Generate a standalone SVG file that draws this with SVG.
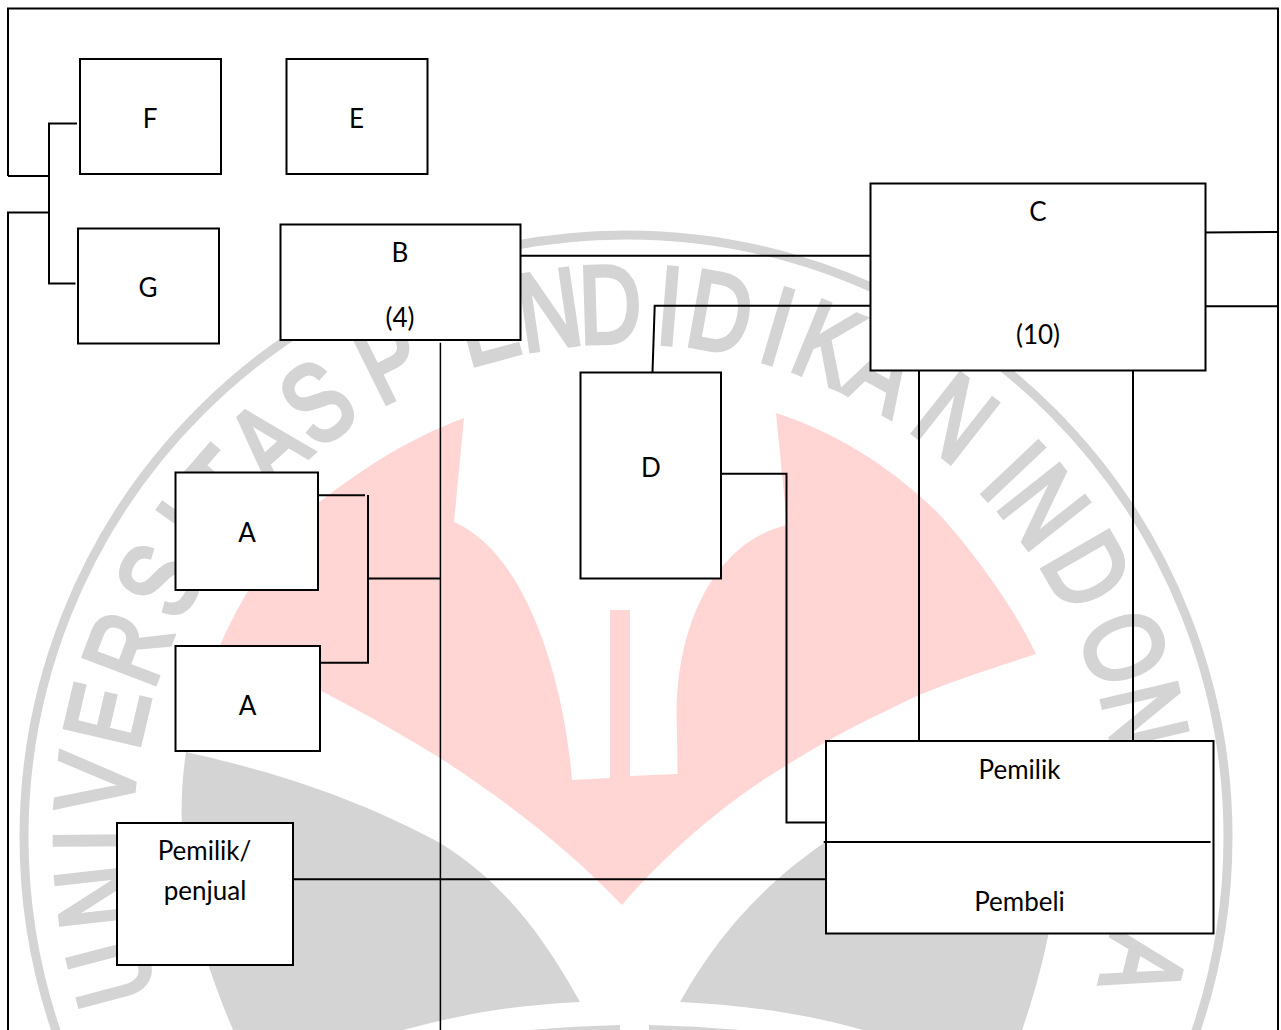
<svg xmlns="http://www.w3.org/2000/svg" width="1281" height="1030" viewBox="0 0 1281 1030">
<style>
text{font-family:Lato,"Liberation Sans",sans-serif;font-size:26px;fill:#000;text-anchor:middle}
.box{fill:#fff;stroke:#000;stroke-width:2}
.ln{fill:none;stroke:#000;stroke-width:2}
.thin{fill:none;stroke:#000;stroke-width:1.5}
#watermark text{font-family:"Liberation Sans",sans-serif;font-size:110px;fill:#d4d4d4;stroke:#d4d4d4;stroke-width:5}
</style>
<rect width="1281" height="1030" fill="#fff"/>
<g id="watermark">
<circle cx="626" cy="837" r="602" fill="none" stroke="#d4d4d4" stroke-width="9"/>
<path fill="#ffd6d4" d="M464,418C400,442 355,475 318,503C280,533 245,590 220,645C290,672 370,715 440,758C500,797 565,845 622,905C660,860 720,805 787,765C830,738 870,718 919,695C960,678 1000,666 1036,654C1015,610 980,560 940,515C905,480 850,437 776,413L787,525C720,540 672,620 677,732L677.500,774L630,776V610H610V778L572,780C565,690 530,555 454,522Z"/>
<path fill="#d4d4d4" d="M186,752C290,775 370,805 440,843C500,880 540,930 580,1002C520,1005 470,1012 403,1030H233C200,950 170,860 186,752Z"/>
<path fill="#d4d4d4" d="M680,1002C720,930 770,880 824,843C880,800 960,775 1058,752C1070,850 1050,950 1022,1030H863C800,1012 740,1005 680,1002Z"/>
<path fill="#d4d4d4" d="M530,1030Q575,1026 620,1025V1030ZM649,1025Q695,1026 740,1030H649Z"/>
<g>
<text transform="rotate(-104.8 626 837) translate(626 342) scale(.78 1)">U</text>
<text transform="rotate(-96.4 626 837) translate(626 342) scale(.78 1)">N</text>
<text transform="rotate(-90.4 626 837) translate(626 342) scale(.78 1)">I</text>
<text transform="rotate(-84.2 626 837) translate(626 342) scale(.78 1)">V</text>
<text transform="rotate(-76.8 626 837) translate(626 342) scale(.78 1)">E</text>
<text transform="rotate(-69.2 626 837) translate(626 342) scale(.78 1)">R</text>
<text transform="rotate(-61.2 626 837) translate(626 342) scale(.78 1)">S</text>
<text transform="rotate(-54.6 626 837) translate(626 342) scale(.78 1)">I</text>
<text transform="rotate(-49 626 837) translate(626 342) scale(.78 1)">T</text>
<text transform="rotate(-42.3 626 837) translate(626 342) scale(.78 1)">A</text>
<text transform="rotate(-35.4 626 837) translate(626 342) scale(.78 1)">S</text>
<text transform="rotate(-26.4 626 837) translate(626 342) scale(.78 1)">P</text>
<text transform="rotate(-15.2 626 837) translate(626 342) scale(.78 1)">E</text>
<text transform="rotate(-8.3 626 837) translate(626 342) scale(.78 1)">N</text>
<text transform="rotate(-1.7 626 837) translate(626 342) scale(.78 1)">D</text>
<text transform="rotate(4.7 626 837) translate(626 342) scale(.78 1)">I</text>
<text transform="rotate(10.2 626 837) translate(626 342) scale(.78 1)">D</text>
<text transform="rotate(16.6 626 837) translate(626 342) scale(.78 1)">I</text>
<text transform="rotate(22.3 626 837) translate(626 342) scale(.78 1)">K</text>
<text transform="rotate(29 626 837) translate(626 342) scale(.78 1)">A</text>
<text transform="rotate(38.2 626 837) translate(626 342) scale(.78 1)">N</text>
<text transform="rotate(46.6 626 837) translate(626 342) scale(.78 1)">I</text>
<text transform="rotate(51.7 626 837) translate(626 342) scale(.78 1)">N</text>
<text transform="rotate(60 626 837) translate(626 342) scale(.78 1)">D</text>
<text transform="rotate(69.2 626 837) translate(626 342) scale(.78 1)">O</text>
<text transform="rotate(76.8 626 837) translate(626 342) scale(.78 1)">N</text>
<text transform="rotate(84 626 837) translate(626 342) scale(.78 1)">E</text>
<text transform="rotate(91 626 837) translate(626 342) scale(.78 1)">S</text>
<text transform="rotate(97 626 837) translate(626 342) scale(.78 1)">I</text>
<text transform="rotate(103.9 626 837) translate(626 342) scale(.78 1)">A</text>
</g>
</g>
<g id="connectors">
<path class="ln" d="M8,176V8.500H1278V1030"/>
<path class="ln" d="M49,176H8"/>
<path class="ln" d="M8,1030V212.500H48"/>
<path class="ln" d="M77,123.500H49V283.500H75.500"/>
<path class="ln" d="M521,255.800H870"/>
<path class="ln" d="M870,305.800H654.700L652.500,372"/>
<path class="ln" d="M1202.500,232.500L1278,232"/>
<path class="ln" d="M1206,306.300H1278"/>
<path class="ln" d="M919,371V740"/>
<path class="ln" d="M1133,371V740"/>
<path class="ln" d="M721,473.800H786.500V822.500H826"/>
<path class="thin" d="M440.400,342.700V1030"/>
<path class="ln" d="M318,495.300H365"/>
<path class="ln" d="M368,495V662.700H321"/>
<path class="ln" d="M369,578.400H440"/>
<path class="ln" d="M293,879.200H826"/>
</g>
<g id="node-f"><rect class="box" x="80" y="59" width="141" height="115"/><text x="150" y="128">F</text></g>
<g id="node-e"><rect class="box" x="286.500" y="59" width="141" height="115"/><text x="356.500" y="128">E</text></g>
<g id="node-g"><rect class="box" x="78" y="228.500" width="141" height="115"/><text x="148" y="297">G</text></g>
<g id="node-b"><rect class="box" x="280.500" y="224.500" width="240" height="115.500"/><text x="400" y="262">B</text><text x="400" y="327">(4)</text></g>
<g id="node-c"><rect class="box" x="870.500" y="183.500" width="335" height="187"/><text x="1038" y="221">C</text><text x="1038" y="344">(10)</text></g>
<g id="node-d"><rect class="box" x="580.500" y="372.500" width="140.500" height="206"/><text x="651" y="476.500">D</text></g>
<g id="node-a1"><rect class="box" x="175.500" y="472.500" width="142.500" height="117.500"/><text x="247" y="541.500">A</text></g>
<g id="node-a2"><rect class="box" x="175.500" y="646" width="144.500" height="105"/><text x="247.500" y="714.500">A</text></g>
<g id="node-penjual"><rect class="box" x="117" y="823" width="176" height="142"/><text x="204.500" y="860">Pemilik/</text><text x="205" y="900">penjual</text></g>
<g id="node-pemilik-pembeli"><rect class="box" x="826" y="741" width="387.500" height="192.500"/><path class="ln" d="M823.700,842H1210.600"/><text x="1019.500" y="778.500">Pemilik</text><text x="1019.500" y="911">Pembeli</text></g>
</svg>
